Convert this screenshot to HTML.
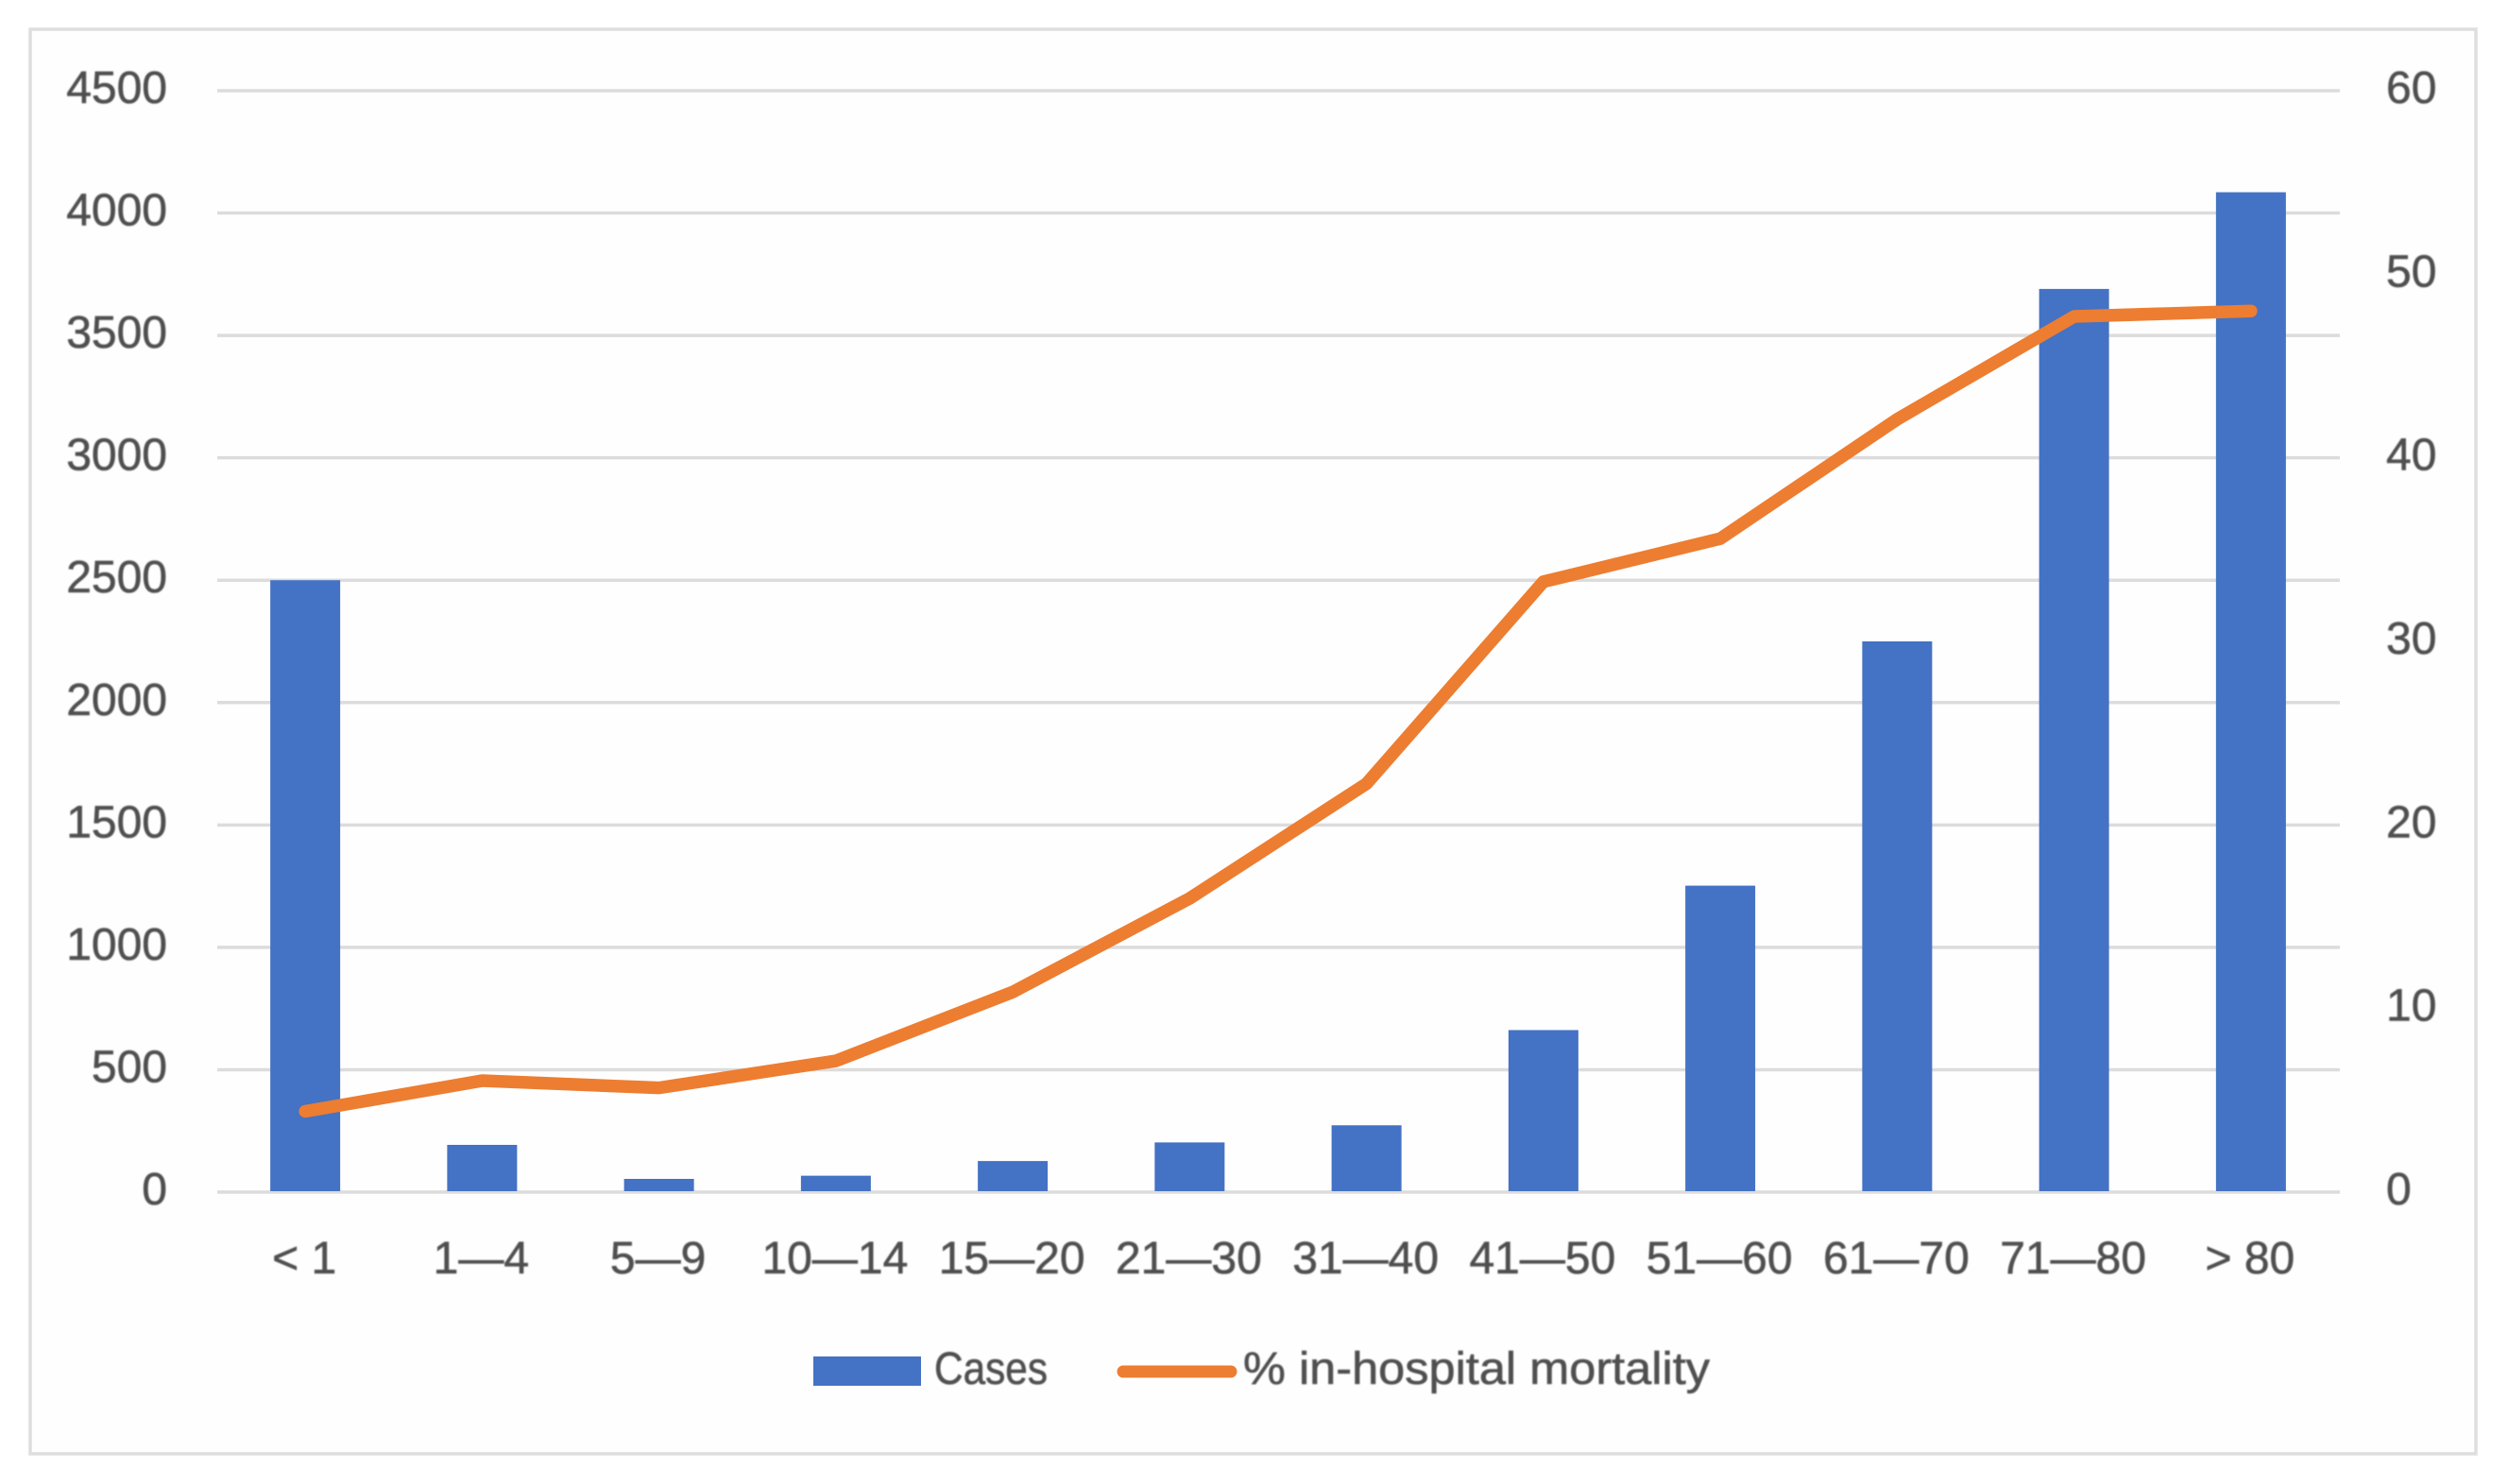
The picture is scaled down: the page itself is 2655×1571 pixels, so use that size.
<!DOCTYPE html>
<html lang="en">
<head>
<meta charset="utf-8">
<title>Cases and in-hospital mortality by age group</title>
<style>
  html, body { margin: 0; padding: 0; background: #ffffff; }
  body { width: 2655px; height: 1571px; overflow: hidden; }
  svg { display: block; }
  text { font-family: "Liberation Sans", sans-serif; font-size: 48px; fill: #505050; stroke: #505050; stroke-width: 0.6px; }
</style>
</head>
<body>
<svg id="chart" xmlns="http://www.w3.org/2000/svg" width="2655" height="1571" viewBox="0 0 2655 1571">
  <defs>
    <filter id="soft" x="-2%" y="-2%" width="104%" height="104%"><feGaussianBlur stdDeviation="0.7"/></filter>
  </defs>
  <rect x="0" y="0" width="2655" height="1571" fill="#ffffff"/>
  <rect x="32" y="31" width="2589" height="1508" fill="#fefefe" stroke="#dedede" stroke-width="3.5"/>
  <g id="grid"></g>
  <g id="bars"></g>
  <g id="line"></g>
  <g id="yLeft" filter="url(#soft)"></g>
  <g id="yRight" filter="url(#soft)"></g>
  <g id="xAxis" filter="url(#soft)"></g>
  <g>
    <g>
      <rect x="861" y="1436" width="114" height="31" fill="#4472c4"/>
      <text x="989" y="1465" textLength="120" lengthAdjust="spacingAndGlyphs" filter="url(#soft)">Cases</text>
    </g>
    <g>
      <line x1="1189" y1="1452" x2="1303" y2="1452" stroke="#ed7d31" stroke-width="13" stroke-linecap="round"/>
      <text x="1316" y="1465" textLength="494" lengthAdjust="spacingAndGlyphs" filter="url(#soft)">% in-hospital mortality</text>
    </g>
  </g>
</svg>
<script>
const categories = ["< 1", "1—4", "5—9", "10—14", "15—20", "21—30", "31—40", "41—50", "51—60", "61—70", "71—80", "> 80"];
const cases = [2500, 193, 54, 67, 127, 203, 273, 662, 1252, 2250, 3690, 4085];
const mortality = [4.4, 6.07, 5.68, 7.15, 10.9, 16.0, 22.25, 33.25, 35.6, 42.1, 47.7, 48.0];
const leftTicks = [0, 500, 1000, 1500, 2000, 2500, 3000, 3500, 4000, 4500];
const rightTicks = [0, 10, 20, 30, 40, 50, 60];

const NS = "http://www.w3.org/2000/svg";
const plotLeft = 230, plotRight = 2477, plotTop = 96, plotBottom = 1262;
const leftMax = 4500, rightMax = 60;
const barWidth = 74;

function yLeftScale(v) { return plotBottom - (v / leftMax) * (plotBottom - plotTop); }
function yRightScale(v) { return plotBottom - (v / rightMax) * (plotBottom - plotTop); }
function xScale(i) { return plotLeft + (i + 0.5) * (plotRight - plotLeft) / categories.length; }
function make(tag, attrs) {
  const el = document.createElementNS(NS, tag);
  for (const k in attrs) el.setAttribute(k, attrs[k]);
  return el;
}

const gridG = document.getElementById("grid");
const barsG = document.getElementById("bars");
const lineG = document.getElementById("line");
const yLeftG = document.getElementById("yLeft");
const yRightG = document.getElementById("yRight");
const xG = document.getElementById("xAxis");

leftTicks.forEach(function (t) {
  const y = yLeftScale(t);
  const g = make("line", { x1: plotLeft, x2: plotRight, y1: y, y2: y, stroke: "#dcdcdc", "stroke-width": 3.5 });
  
  
  gridG.appendChild(g);

  const label = make("text", { x: 177, y: y + 13, "text-anchor": "end" });
  
  
  label.textContent = t;
  yLeftG.appendChild(label);
});

rightTicks.forEach(function (t) {
  const label = make("text", { x: 2526, y: yRightScale(t) + 13, "text-anchor": "start" });
  
  
  label.textContent = t;
  yRightG.appendChild(label);
});

cases.forEach(function (v, i) {
  const top = yLeftScale(v);
  const bar = make("rect", { x: xScale(i) - 0.5 - barWidth / 2, y: top, width: barWidth, height: plotBottom - 1 - top, fill: "#4472c4" });
  
  
  barsG.appendChild(bar);
});

const linePoints = mortality.map(function (v, i) { return (xScale(i) - 0.5) + "," + yRightScale(v); }).join(" ");
const poly = make("polyline", { points: linePoints, fill: "none", stroke: "#ed7d31", "stroke-width": 13.5, "stroke-linecap": "round", "stroke-linejoin": "round" });


lineG.appendChild(poly);

categories.forEach(function (c, i) {
  const label = make("text", { x: xScale(i) - 1.5, y: 1348, "text-anchor": "middle" });
  
  
  label.textContent = c;
  xG.appendChild(label);
});
</script>
</body>
</html>
